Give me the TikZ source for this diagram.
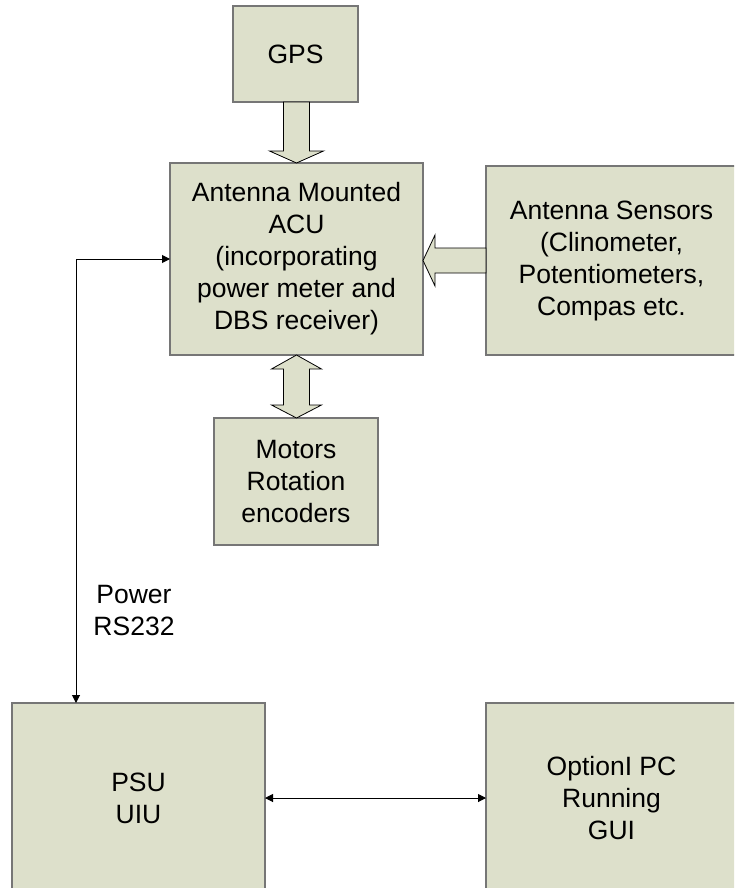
\documentclass[tikz,border=0pt]{standalone}
\usepackage{fontspec}
\setmainfont{Liberation Sans}
\usetikzlibrary{calc,arrows.meta}
\definecolor{boxfill}{RGB}{221,224,203}
\definecolor{boxline}{RGB}{118,118,118}
\begin{document}
\begin{tikzpicture}[x=1pt,y=-1pt,
  box/.style={draw=boxline,fill=boxfill,line width=1.5pt,inner sep=0pt,outer sep=0pt,align=center,font=\fontsize{26.5}{32}\selectfont},
  txt/.style={align=center,font=\fontsize{26.5}{32}\selectfont,inner sep=0pt},
  blockarrow/.style={draw=black,fill=boxfill,line width=0.8pt,line join=miter},
  conn/.style={draw=black,line width=1pt,{Triangle[length=8pt,width=8pt]}-{Triangle[length=8pt,width=8pt]}}]
\useasboundingbox (0,0) rectangle (734,888);
\clip (0,0) rectangle (734,888);
% boxes
\node[box,minimum width=125,minimum height=96] (gps) at (295.5,54) {GPS};
\node[box,minimum width=253,minimum height=192] (acu) at (296.5,259) {Antenna Mounted\\ACU\\(incorporating\\power meter and\\DBS receiver)};
\node[box,minimum width=251,minimum height=189] (sens) at (611.5,260.5) {Antenna Sensors\\(Clinometer,\\Potentiometers,\\Compas etc.};
\node[box,minimum width=164,minimum height=127] (mot) at (296,481.5) {Motors\\Rotation\\encoders};
\node[box,minimum width=253,minimum height=190] (psu) at (138.5,798) {PSU\\UIU};
\node[box,minimum width=251,minimum height=190] (pc) at (611.5,798) {OptionI PC\\Running\\GUI};
% block arrows
\draw[blockarrow] ($(acu.north|-gps.south)+(-13,0)$) -- ($(acu.north|-gps.south)+(13,0)$)
  -- ($(acu.north)+(13,-12)$) -- ($(acu.north)+(27,-12)$) -- (acu.north)
  -- ($(acu.north)+(-27,-12)$) -- ($(acu.north)+(-13,-12)$) -- cycle;
\coordinate (st) at (acu.east|-sens.west);
\draw[blockarrow] (st) -- ($(st)+(12,-25.5)$) -- ($(st)+(12,-12.5)$) -- ($(sens.west)+(0,-12.5)$)
  -- ($(sens.west)+(0,12.5)$) -- ($(st)+(12,12.5)$) -- ($(st)+(12,25.5)$) -- cycle;
\coordinate (mt) at (acu.south|-mot.north);
\draw[blockarrow] (acu.south) -- ($(acu.south)+(25,14)$) -- ($(acu.south)+(13,14)$)
  -- ($(mt)+(13,-13)$) -- ($(mt)+(25,-13)$) -- (mt) -- ($(mt)+(-25,-13)$)
  -- ($(mt)+(-13,-13)$) -- ($(acu.south)+(-13,14)$) -- ($(acu.south)+(-25,14)$) -- cycle;
% connectors
\coordinate (pp) at ($(psu.north west)+(64,0)$);
\draw[conn] (pp) |- (acu.west);
\draw[conn] (psu.east) -- (pc.west);
\node[txt] (lbl) at (134,610.5) {Power\\RS232};
\end{tikzpicture}
\end{document}
